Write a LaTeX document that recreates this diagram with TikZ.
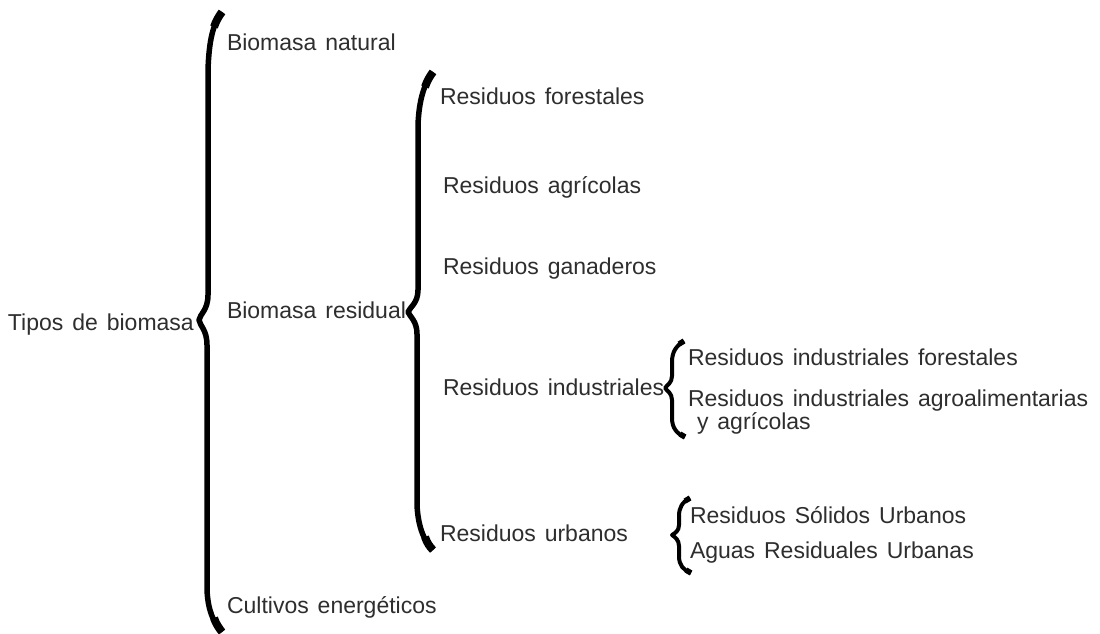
\documentclass[tikz,border=0pt]{standalone}
\usepackage{fontspec}
\setmainfont[WordSpace=1.4]{Liberation Sans}
\definecolor{ink}{HTML}{2E2E2E}
\tikzset{
  label/.style={anchor=base west, inner sep=0pt, outer sep=0pt, text=ink,
    font=\fontsize{23}{23.5}\selectfont},
  bigbrace/.style={draw=black, line width=5.5pt, line cap=butt, line join=round},
  smallbrace/.style={draw=black, line width=4pt, line cap=butt, line join=round},
  braceend/.style={draw=black, line width=8pt, line cap=butt},
  smallend/.style={draw=black, line width=5.5pt, line cap=butt}
}
\begin{document}
\begin{tikzpicture}[x=1pt, y=-1pt]
  \useasboundingbox[fill=white] (0,0) rectangle (1100,634);

  % labels, level by level
  \node[label] (tipos) at (8,330) {Tipos de biomasa};

  \node[label] (natural)  at (227,51)  {Biomasa natural};
  \node[label] (residual) at (227,318) {Biomasa residual};
  \node[label] (cultivos) at (227,613) {Cultivos energéticos};

  \node[label] (forest)  at (440,104) {Residuos forestales};
  \node[label] (agric)   at (443,193) {Residuos agrícolas};
  \node[label] (ganad)   at (443,274) {Residuos ganaderos};
  \node[label] (indust)  at (443,395) {Residuos industriales};
  \node[label] (urban)   at (440,541) {Residuos urbanos};

  \node[label] (indfor)  at (688,365) {Residuos industriales forestales};
  \node[label] (indagro) at (688,406) {Residuos industriales agroalimentarias};
  \node[label] (yagric)  at (697,429) {y agrícolas};

  \node[label] (rsu) at (690,523) {Residuos Sólidos Urbanos};
  \node[label] (aru) at (690,558) {Aguas Residuales Urbanas};

  % outer brace
  \draw[bigbrace] (222,12) .. controls (213,24) and (209,40) .. (208,70)
    -- (208,295) .. controls (208,310) and (200,314) .. (199,320)
    .. controls (200,326) and (207,330) .. (207,345)
    -- (207,590) .. controls (208,610) and (213,622) .. (222,632);
  \draw[braceend] (222,12) .. controls (219,16) and (216,21) .. (214,27);
  \draw[braceend] (222,632) .. controls (219,628) and (216,624) .. (214,618);

  % brace of the residual biomass
  \draw[bigbrace] (433,72) .. controls (424,84) and (419,100) .. (418,125)
    -- (418,290) .. controls (418,303) and (410,307) .. (408,312)
    .. controls (410,317) and (417,321) .. (417,334)
    -- (417,505) .. controls (418,525) and (423,540) .. (433,550);
  \draw[braceend] (433,72) .. controls (430,76) and (427,81) .. (425,87);
  \draw[braceend] (433,550) .. controls (430,547) and (427,543) .. (425,537);

  % industrial residues
  \draw[smallbrace] (684,341) .. controls (676,346) and (672,352) .. (672,362)
    -- (672,376) .. controls (672,383) and (667,385) .. (665,388)
    .. controls (667,391) and (672,393) .. (672,400)
    -- (672,418) .. controls (672,428) and (677,434) .. (685,437);
  \draw[smallend] (684,341) -- (679,344);
  \draw[smallend] (685,437) -- (680,434);

  % urban residues
  \draw[smallbrace] (690,498) .. controls (682,502) and (679,508) .. (679,516)
    -- (679,525) .. controls (679,531) and (675,533) .. (672,535)
    .. controls (675,537) and (679,540) .. (679,546)
    -- (679,556) .. controls (679,565) and (683,570) .. (691,573);
  \draw[smallend] (690,498) -- (685,501);
  \draw[smallend] (691,573) -- (686,570);
\end{tikzpicture}
\end{document}
